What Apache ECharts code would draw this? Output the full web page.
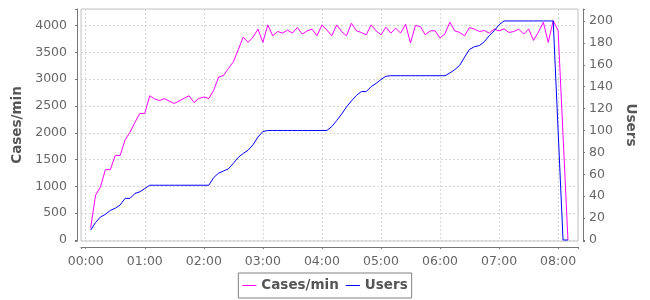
<!DOCTYPE html>
<html>
<head>
<meta charset="utf-8">
<script src="https://cdn.jsdelivr.net/npm/echarts@6/dist/echarts.min.js"></script>
<style>
html,body{margin:0;padding:0;background:#fff;}
#chart{width:650px;height:300px;}
</style>
</head>
<body>
<div id="chart"></div>
<script>
// Elapsed time (minutes) of each sample
const minutes = [5,10,15,20,25,30,35,40,45,50,55,60,65,70,75,80,85,90,95,100,
  105,110,115,120,125,130,135,140,145,150,155,160,165,170,175,180,185,190,195,200,
  205,210,215,220,225,230,235,240,245,250,255,260,265,270,275,280,285,290,295,300,
  305,310,315,320,325,330,335,340,345,350,355,360,365,370,375,380,385,390,395,400,
  405,410,415,420,425,430,435,440,445,450,455,460,465,470,475,480,485,490];

// Cases/min (left axis)
const casesPerMin = [222,837,992,1312,1312,1577,1577,1867,2009,2194,2360,2360,2690,2630,2600,2637,2588,2545,2594,2643,
  2690,2563,2640,2667,2637,2791,3037,3068,3198,3322,3549,3784,3684,3784,3932,3684,4011,3808,3887,3857,
  3913,3857,3961,3839,3900,3932,3808,4011,3915,3808,4011,3887,3808,4042,3900,3869,3826,4011,3900,3826,
  3968,3857,3950,3857,4024,3673,3998,3980,3826,3900,3900,3765,3845,4061,3900,3869,3808,3961,3932,3887,
  3906,3857,3932,3900,3937,3869,3887,3932,3839,3937,3721,3876,4061,3684,4090,3906,1950,0];

// Users (right axis)
const users = [9,16,21,23.5,27,29,32,38,38,42.5,44,47,50,50,50,50,50,50,50,50,
  50,50,50,50,50,57,61,63,65,70,75.5,79,82,87,94,99,100,100,100,100,
  100,100,100,100,100,100,100,100,100,103.5,109,115,121.5,127,132,135.5,135.5,140,143,146.5,
  149.5,150,150,150,150,150,150,150,150,150,150,150,150,152.5,155.5,159.5,167,174,176.5,177.5,
  181,186.5,191,196.5,200,200,200,200,200,200,200,200,200,200,200,100,0,0];

const seriesNames = ['Cases/min', 'Users'];
const xTickStep = 60;      // one hour
const leftTickStep = 500;
const rightTickStep = 20;

function pad(n){ return (n < 10 ? '0' : '') + n; }
function isMultiple(v, step){ return Math.abs(v / step - Math.round(v / step)) < 1e-6; }

const casesData = minutes.map((m, i) => [m, casesPerMin[i]]);
const usersData = minutes.map((m, i) => [m, users[i]]);

const FONT = 'DejaVu Sans';
const tickLabel = { color: '#666666', fontSize: 12.5, fontFamily: FONT };
const axisLineStyle = { color: '#777777', width: 1 };
const gridLineStyle = { color: '#d6d6d6', width: 1, type: [2, 2] };

const chart = echarts.init(document.getElementById('chart'), null, { renderer: 'canvas' });
chart.setOption({
  animation: false,
  backgroundColor: '#ffffff',
  grid: {
    left: 81, right: 72, top: 9, bottom: 59,
    show: true, borderColor: '#c4c4c4', borderWidth: 1, backgroundColor: '#ffffff'
  },
  legend: {
    data: seriesNames,
    left: 'center', top: 273,
    padding: [5, 4, 5, 4],
    itemGap: 7, itemWidth: 14, itemHeight: 1,
    icon: 'rect',
    borderColor: '#808080', borderWidth: 1,
    textStyle: { fontFamily: FONT, fontWeight: 'bold', fontSize: 13.5, color: '#555555', lineHeight: 15 }
  },
  xAxis: {
    type: 'value',
    min: -4.8, max: 500.2,
    minInterval: xTickStep, maxInterval: xTickStep,
    offset: 6,
    axisLine: { show: true, onZero: false, lineStyle: axisLineStyle },
    axisTick: { show: true, length: 2, lineStyle: axisLineStyle },
    axisLabel: Object.assign({
      margin: 8,
      formatter: v => isMultiple(v, xTickStep) ? pad(Math.floor(v / 60)) + ':' + pad(v % 60) : ''
    }, tickLabel),
    splitLine: { show: true, lineStyle: gridLineStyle }
  },
  yAxis: [
    {
      type: 'value', position: 'left',
      min: -18, max: 4307,
      minInterval: leftTickStep, maxInterval: leftTickStep,
      offset: 4,
      name: seriesNames[0], nameLocation: 'middle', nameGap: 48, nameRotate: 90,
      nameTextStyle: { fontFamily: FONT, fontWeight: 'bold', fontSize: 13.5, color: '#555555' },
      axisLine: { show: true, onZero: false, lineStyle: axisLineStyle },
      axisTick: { show: true, length: 2, lineStyle: axisLineStyle },
      axisLabel: Object.assign({
        margin: 10,
        formatter: v => isMultiple(v, leftTickStep) ? String(Math.round(v)) : ''
      }, tickLabel),
      splitLine: { show: true, lineStyle: gridLineStyle }
    },
    {
      type: 'value', position: 'right',
      min: -0.9, max: 210.9,
      minInterval: rightTickStep, maxInterval: rightTickStep,
      offset: 5,
      name: seriesNames[1], nameLocation: 'middle', nameGap: 36, nameRotate: -90,
      nameTextStyle: { fontFamily: FONT, fontWeight: 'bold', fontSize: 13.5, color: '#555555' },
      axisLine: { show: true, onZero: false, lineStyle: axisLineStyle },
      axisTick: { show: true, length: 2, lineStyle: axisLineStyle },
      axisLabel: Object.assign({
        margin: 6,
        formatter: v => isMultiple(v, rightTickStep) ? String(Math.round(v)) : ''
      }, tickLabel),
      splitLine: { show: false }
    }
  ],
  series: [
    {
      name: seriesNames[0], type: 'line', yAxisIndex: 0,
      data: casesData, symbol: 'none', smooth: false,
      lineStyle: { color: '#ff00ff', width: 1 }, itemStyle: { color: '#ff00ff' },
      z: 2
    },
    {
      name: seriesNames[1], type: 'line', yAxisIndex: 1,
      data: usersData, symbol: 'none', smooth: false,
      lineStyle: { color: '#0000ff', width: 1 }, itemStyle: { color: '#0000ff' },
      z: 3
    }
  ]
});
</script>
</body>
</html>
